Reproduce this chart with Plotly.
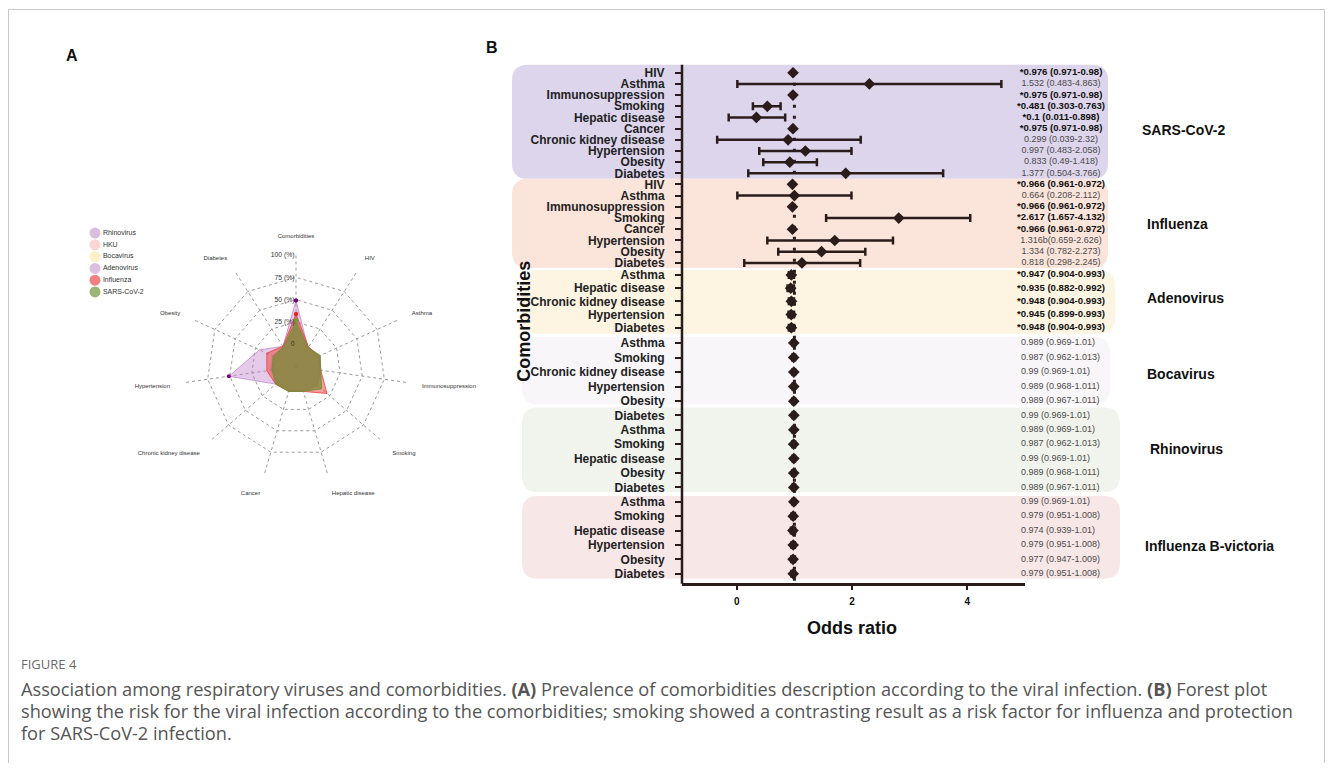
import plotly.graph_objects as go

# the page adds an 8px body margin, so the figure covers x 8..1325, y 8..763
OFF = 8
W, H = 1317, 755

# ---------------- radar (panel A) data ----------------
radar_axes = ["Comorbidities", "HIV", "Asthma", "Immunosuppression", "Smoking",
              "Hepatic disease", "Cancer", "Chronic kidney disease", "Hypertension",
              "Obesity", "Diabetes"]
radar_series = ["Rhinovirus", "HKU", "Bocavirus", "Adenovirus", "Influenza", "SARS-CoV-2"]
rhinovirus = [20, 1, 3, 2, 6, 2, 2, 3, 4, 4, 1]
hku = [18, 0, 2, 2, 5, 2, 2, 2, 3, 3, 1]
bocavirus = [22, 1, 3, 2, 8, 3, 3, 3, 5, 5, 2]
adenovirus = [49, 0, 3, 2, 8, 3, 3, 5, 51, 20, 2]
influenza = [34, 1, 4, 3, 21, 4, 4, 5, 8, 11, 2]
sars_cov_2 = [27, 0, 5, 3, 13, 4, 4, 5, 2, 3, 1]
radar_tickvals = [0, 25, 50, 75, 100]
radar_ticktext = ["0", "25 (%)", "50 (%)", "75 (%)", "100 (%)"]

# ---------------- forest (panel B) data ----------------
sars_labels = ["HIV", "Asthma", "Immunosuppression", "Smoking", "Hepatic disease", "Cancer",
               "Chronic kidney disease", "Hypertension", "Obesity", "Diabetes"]
sars_or = [0.976, 2.30, 0.975, 0.53, 0.34, 0.975, 0.89, 1.19, 0.92, 1.89]
sars_lo = [0.971, 0.01, 0.971, 0.28, -0.14, 0.971, -0.34, 0.39, 0.46, 0.20]
sars_hi = [0.98, 4.59, 0.98, 0.76, 0.84, 0.98, 2.15, 1.99, 1.39, 3.58]
sars_text = ["*0.976 (0.971-0.98)", "1.532 (0.483-4.863)", "*0.975 (0.971-0.98)",
             "*0.481 (0.303-0.763)", "*0.1 (0.011-0.898)", "*0.975 (0.971-0.98)",
             "0.299 (0.039-2.32)", "0.997 (0.483-2.058)", "0.833 (0.49-1.418)",
             "1.377 (0.504-3.766)"]

flu_labels = ["HIV", "Asthma", "Immunosuppression", "Smoking", "Cancer", "Hypertension",
              "Obesity", "Diabetes"]
flu_or = [0.966, 1.00, 0.966, 2.81, 0.966, 1.70, 1.47, 1.13]
flu_lo = [0.961, 0.01, 0.961, 1.55, 0.961, 0.53, 0.72, 0.13]
flu_hi = [0.972, 1.99, 0.972, 4.05, 0.972, 2.71, 2.23, 2.14]
flu_text = ["*0.966 (0.961-0.972)", "0.664 (0.208-2.112)", "*0.966 (0.961-0.972)",
            "*2.617 (1.657-4.132)", "*0.966 (0.961-0.972)", "1.316b(0.659-2.626)",
            "1.334 (0.782-2.273)", "0.818 (0.298-2.245)"]

adeno_labels = ["Asthma", "Hepatic disease", "Chronic kidney disease", "Hypertension", "Diabetes"]
adeno_or = [0.947, 0.935, 0.948, 0.945, 0.948]
adeno_lo = [0.904, 0.882, 0.904, 0.899, 0.904]
adeno_hi = [0.993, 0.992, 0.993, 0.993, 0.993]
adeno_text = ["*0.947 (0.904-0.993)", "*0.935 (0.882-0.992)", "*0.948 (0.904-0.993)",
              "*0.945 (0.899-0.993)", "*0.948 (0.904-0.993)"]

boca_labels = ["Asthma", "Smoking", "Chronic kidney disease", "Hypertension", "Obesity"]
boca_or = [0.989, 0.987, 0.99, 0.989, 0.989]
boca_lo = [0.969, 0.962, 0.969, 0.968, 0.967]
boca_hi = [1.01, 1.013, 1.01, 1.011, 1.011]
boca_text = ["0.989 (0.969-1.01)", "0.987 (0.962-1.013)", "0.99 (0.969-1.01)",
             "0.989 (0.968-1.011)", "0.989 (0.967-1.011)"]

rhino_labels = ["Diabetes", "Asthma", "Smoking", "Hepatic disease", "Obesity", "Diabetes"]
rhino_or = [0.99, 0.989, 0.987, 0.99, 0.989, 0.989]
rhino_lo = [0.969, 0.969, 0.962, 0.969, 0.968, 0.967]
rhino_hi = [1.01, 1.01, 1.013, 1.01, 1.011, 1.011]
rhino_text = ["0.99 (0.969-1.01)", "0.989 (0.969-1.01)", "0.987 (0.962-1.013)",
              "0.99 (0.969-1.01)", "0.989 (0.968-1.011)", "0.989 (0.967-1.011)"]

flub_labels = ["Asthma", "Smoking", "Hepatic disease", "Hypertension", "Obesity", "Diabetes"]
flub_or = [0.99, 0.979, 0.974, 0.979, 0.977, 0.979]
flub_lo = [0.969, 0.951, 0.939, 0.951, 0.947, 0.951]
flub_hi = [1.01, 1.008, 1.01, 1.008, 1.009, 1.008]
flub_text = ["0.99 (0.969-1.01)", "0.979 (0.951-1.008)", "0.974 (0.939-1.01)",
             "0.979 (0.951-1.008)", "0.977 (0.947-1.009)", "0.979 (0.951-1.008)"]

group_names = ["SARS-CoV-2", "Influenza", "Adenovirus", "Bocavirus", "Rhinovirus",
               "Influenza B-victoria"]
null_or = 1
x_ticks = [0, 2, 4]

# ---------------- helpers (page pixel -> paper) ----------------
def px(x):
    return (x - OFF) / W


def py(y):
    return 1 - (y - OFF) / H


def rounded_rect(x0, y0, x1, y1, r):
    def P(x, y):
        return f"{px(x):.5f},{py(y):.5f}"
    return (f"M {P(x0 + r, y0)} L {P(x1 - r, y0)} Q {P(x1, y0)} {P(x1, y0 + r)} "
            f"L {P(x1, y1 - r)} Q {P(x1, y1)} {P(x1 - r, y1)} L {P(x0 + r, y1)} "
            f"Q {P(x0, y1)} {P(x0, y1 - r)} L {P(x0, y0 + r)} Q {P(x0, y0)} {P(x0 + r, y0)} Z")


FONT = "Liberation Sans, Arial, sans-serif"
fig = go.Figure()

# ---------------- radar ----------------
radar_data = [rhinovirus, hku, bocavirus, adenovirus, influenza, sars_cov_2]
fill_cols = ["rgba(205,160,210,0.30)", "rgba(245,180,170,0.30)", "rgba(252,222,150,0.30)",
             "rgba(190,125,200,0.40)", "rgba(236,60,60,0.50)", "rgba(112,142,52,0.70)"]
line_cols = ["rgba(205,160,210,0.7)", "rgba(245,180,170,0.7)", "rgba(252,222,150,0.7)",
             "rgba(190,125,200,0.7)", "rgba(236,60,60,0.8)", "rgba(112,142,52,0.85)"]
mark_cols = ["#c9a0cc", "#f1b3aa", "#f5d58a", "#800080", "#e8231f", "#6f9a2d"]
legend_cols = ["#d9bfdd", "#f9d6d3", "#fdefc6", "#dcbfe0", "#ee8282", "#9db476"]

for name, vals, fc, lc, mc in zip(radar_series, radar_data, fill_cols, line_cols, mark_cols):
    fig.add_trace(go.Scatterpolar(
        r=vals + vals[:1], theta=radar_axes + radar_axes[:1], name=name,
        mode="lines+markers", fill="toself", fillcolor=fc,
        line=dict(color=lc, width=1), marker=dict(color=mc, size=4),
        showlegend=False, subplot="polar"))

# manual legend
fig.add_trace(go.Scatter(
    x=[0] * len(radar_series), y=list(range(len(radar_series))), xaxis="x3", yaxis="y7",
    mode="markers+text", text=radar_series, textposition="middle right",
    textfont=dict(size=7, color="#333333", family=FONT),
    marker=dict(size=11, color=legend_cols), cliponaxis=False, showlegend=False))

# ---------------- forest ----------------
blocks = [
    dict(labels=sars_labels, orv=sars_or, lo=sars_lo, hi=sars_hi, text=sars_text,
         dom=(66.4, 178.6), bg=(512, 64, 1108, 178.5), col="#ddd5ec", ly=129, lx=1140, center=True),
    dict(labels=flu_labels, orv=flu_or, lo=flu_lo, hi=flu_hi, text=flu_text,
         dom=(178.4, 268.6), bg=(512, 178.5, 1108, 268), col="#fbe4da", ly=224, lx=1145, center=True),
    dict(labels=adeno_labels, orv=adeno_or, lo=adeno_lo, hi=adeno_hi, text=adeno_text,
         dom=(268.4, 334.6), bg=(522, 270, 1115, 334), col="#fdf4e1", ly=298, lx=1145, center=True),
    dict(labels=boca_labels, orv=boca_or, lo=boca_lo, hi=boca_hi, text=boca_text,
         dom=(336.0, 409.0), bg=(522, 337, 1110, 405), col="#f9f6f9", ly=374, lx=1145, center=False),
    dict(labels=rhino_labels, orv=rhino_or, lo=rhino_lo, hi=rhino_hi, text=rhino_text,
         dom=(408.7, 495.6), bg=(522, 408, 1120, 493), col="#f1f4ed", ly=450, lx=1148, center=False),
    dict(labels=flub_labels, orv=flub_or, lo=flub_lo, hi=flub_hi, text=flub_text,
         dom=(495.6, 582.2), bg=(522, 497, 1120, 580), col="#f8e7e7", ly=547, lx=1143, center=False),
]

shapes = []
annotations = []
layout_axes = {}
DARK = "#2b1c1c"

for k, (b, gname) in enumerate(zip(blocks, group_names), start=1):
    yname = "y" if k == 1 else f"y{k}"
    ykey = "yaxis" if k == 1 else f"yaxis{k}"
    n = len(b["labels"])
    idx = list(range(n))
    fig.add_trace(go.Scatter(
        x=b["orv"], y=idx, xaxis="x", yaxis=yname, mode="markers",
        marker=dict(symbol="diamond", size=9, color=DARK),
        error_x=dict(type="data", symmetric=False,
                     array=[h - o for h, o in zip(b["hi"], b["orv"])],
                     arrayminus=[o - l for o, l in zip(b["orv"], b["lo"])],
                     color=DARK, thickness=2.5, width=4),
        showlegend=False, cliponaxis=False))
    sig = [t.startswith("*") for t in b["text"]]
    txt = [f"<b>{t}</b>" if s else t for t, s in zip(b["text"], sig)]
    tcol = ["#111111" if s else "#4a4a4a" for s in sig]
    tsize = [9.6 if s else 9 for s in sig]
    fig.add_trace(go.Scatter(
        x=[0.5 if b["center"] else 0.0] * n, y=idx, xaxis="x2", yaxis=yname, mode="text",
        text=txt, textposition="middle center" if b["center"] else "middle right",
        textfont=dict(size=tsize, color=tcol, family=FONT), showlegend=False,
        cliponaxis=False))
    layout_axes[ykey] = dict(
        domain=[py(b["dom"][1]), py(b["dom"][0])], anchor="free", position=px(682),
        range=[n - 0.5, -0.5], tickvals=idx, ticktext=[f"<b>{s}</b>" for s in b["labels"]],
        tickfont=dict(size=12, color="#222222", family=FONT), ticks="outside", ticklen=7,
        tickwidth=2, tickcolor=DARK, showline=False, showgrid=False, zeroline=False,
        ticklabelstandoff=8)
    x0, y0, x1, y1 = b["bg"]
    shapes.append(dict(type="path", path=rounded_rect(x0, y0, x1, y1, 16), xref="paper",
                       yref="paper", fillcolor=b["col"], line=dict(width=0), layer="below"))
    annotations.append(dict(text=f"<b>{gname}</b>", x=px(b["lx"]), y=py(b["ly"]), xref="paper",
                            yref="paper", xanchor="left", yanchor="middle", showarrow=False,
                            font=dict(size=14, color="#111111", family=FONT)))

# y axis line and null line
shapes.append(dict(type="line", xref="paper", yref="paper", x0=px(682), x1=px(682),
                   y0=py(585), y1=py(64), line=dict(color=DARK, width=2.5)))
shapes.append(dict(type="line", xref="x", yref="paper", x0=null_or, x1=null_or,
                   y0=py(582), y1=py(66), line=dict(color=DARK, width=3, dash="3px,8px"),
                   layer="above"))
# frame
shapes.append(dict(type="rect", xref="paper", yref="paper", x0=0.5 / W, x1=1 - 0.5 / W,
                   y0=-0.02, y1=1 - 0.5 / H, line=dict(color="#c9c9c9", width=1)))

layout_axes["xaxis"] = dict(domain=[px(682), px(1025)], anchor="free", position=py(585),
                            range=[-0.95, 5], tickvals=x_ticks,
                            ticktext=[f"<b>{t}</b>" for t in x_ticks],
                            tickfont=dict(size=10, color="#111111", family=FONT),
                            ticks="outside", ticklen=5, tickwidth=2, tickcolor=DARK,
                            showline=True, linecolor=DARK, linewidth=2.5, showgrid=False,
                            zeroline=False, ticklabelstandoff=3)
layout_axes["xaxis2"] = dict(domain=[px(1021), px(1101)], range=[0, 1], visible=False,
                             anchor="y")
layout_axes["xaxis3"] = dict(domain=[px(95), px(200)], range=[0, 1], visible=False,
                             anchor="y7")
layout_axes["yaxis7"] = dict(domain=[py(298), py(227)], range=[5.5, -0.5], visible=False,
                             anchor="x3")

CAP = dict(size=18.2, color="#555555", family="Open Sans")
annotations += [
    dict(text="<b>A</b>", x=px(72), y=py(55), font=dict(size=16, color="#111", family=FONT)),
    dict(text="<b>B</b>", x=px(492), y=py(47), font=dict(size=16, color="#111", family=FONT)),
    dict(text="<b>Comorbidities</b>", x=px(524), y=py(322), textangle=-90,
         font=dict(size=18, color="#111", family=FONT)),
    dict(text="<b>Odds ratio</b>", x=px(852), y=py(629),
         font=dict(size=18, color="#111", family=FONT)),
    dict(text="FIGURE 4", x=px(19), y=py(666), xanchor="left",
         font=dict(size=13, color="#6a6a6a", family="Open Sans")),
    dict(text="Association among respiratory viruses and comorbidities. <b>(A)</b> Prevalence of "
              "comorbidities description according to the viral infection. <b>(B)</b> Forest plot",
         x=px(19), y=py(691), xanchor="left", font=CAP),
    dict(text="showing the risk for the viral infection according to the comorbidities; smoking "
              "showed a contrasting result as a risk factor for influenza and protection",
         x=px(19), y=py(713), xanchor="left", font=CAP),
    dict(text="for SARS-CoV-2 infection.", x=px(19), y=py(735), xanchor="left", font=CAP),
]
for a in annotations:
    a.setdefault("xref", "paper")
    a.setdefault("yref", "paper")
    a.setdefault("showarrow", False)
    a.setdefault("xanchor", "center")
    a.setdefault("yanchor", "middle")

fig.update_layout(
    width=W, height=H, margin=dict(l=0, r=0, t=0, b=0), paper_bgcolor="white",
    plot_bgcolor="rgba(0,0,0,0)", showlegend=False, font=dict(family=FONT),
    shapes=shapes, annotations=annotations,
    polar=dict(
        domain=dict(x=[px(184), px(408)], y=[py(479), py(255)]), bgcolor="rgba(0,0,0,0)",
        gridshape="linear",
        radialaxis=dict(range=[-25, 100], tickvals=radar_tickvals, ticktext=radar_ticktext,
                        showline=False, gridcolor="#9a9a9a", griddash="dot", gridwidth=0.8,
                        angle=90, tickangle=90, ticks="", side="counterclockwise",
                        tickfont=dict(size=6.8, color="#333333", family=FONT)),
        angularaxis=dict(rotation=90, direction="clockwise", gridcolor="#9a9a9a",
                         griddash="dot", gridwidth=0.8, showline=False, ticks="outside",
                         ticklen=14, tickcolor="rgba(0,0,0,0)",
                         tickfont=dict(size=6, color="#333333", family=FONT))),
    **layout_axes)

fig.write_html("out.html")
